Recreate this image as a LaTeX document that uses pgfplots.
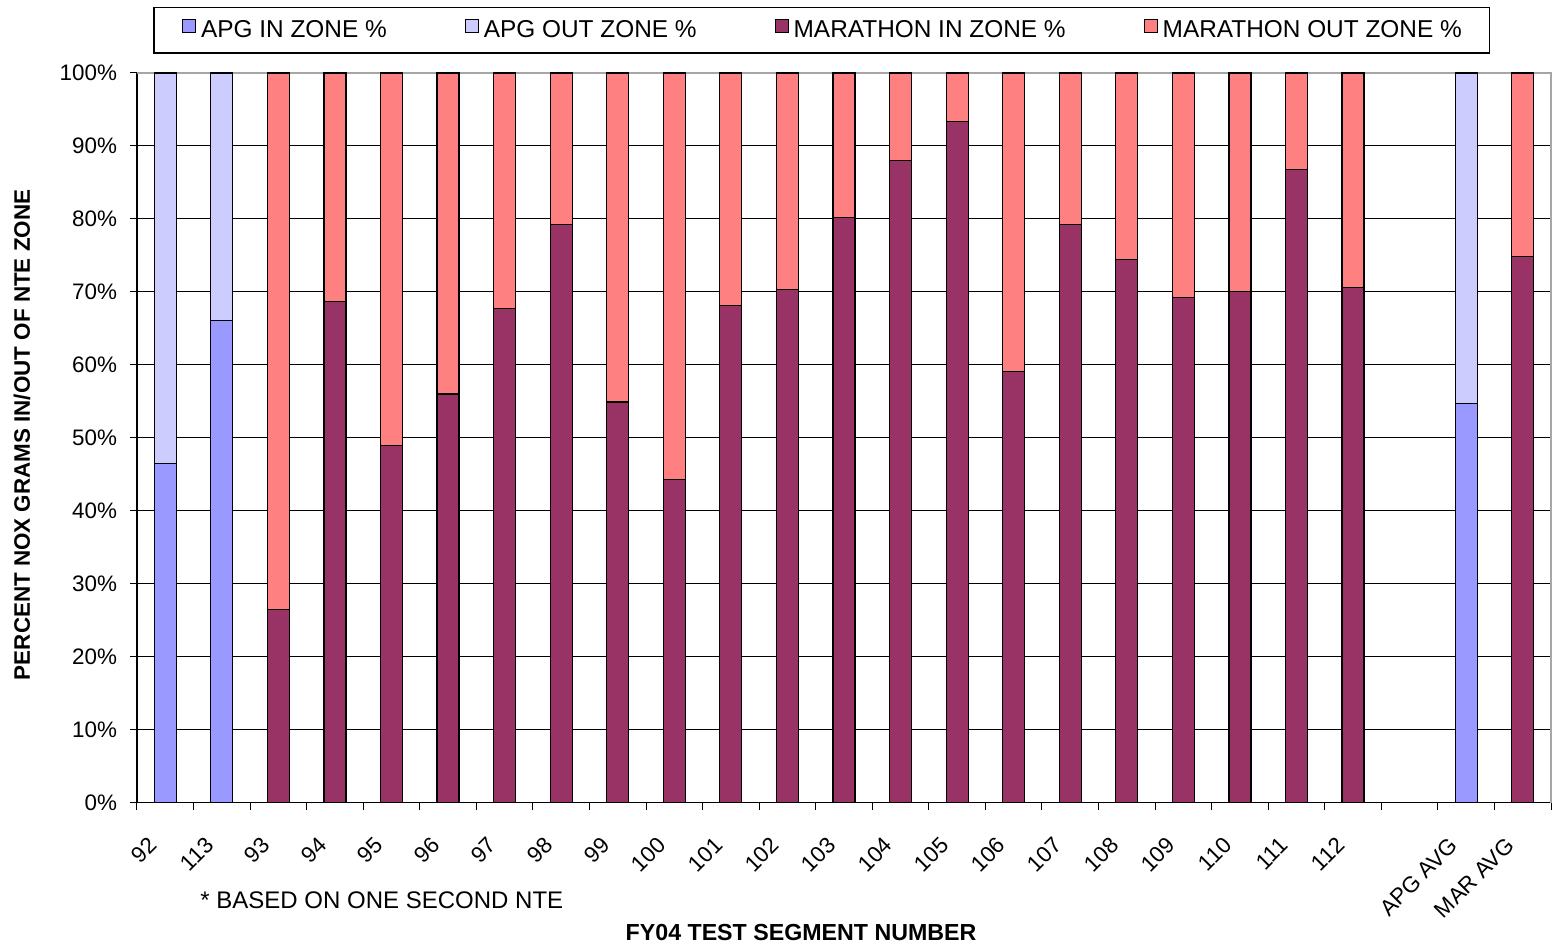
\documentclass[border=0pt]{standalone}
\usepackage{pgfplots}
\usepackage{pgfplotstable}
\usepackage{fontspec}
\pgfplotsset{compat=1.18}
\setmainfont{Liberation Sans}

\definecolor{apgin}{HTML}{9999FF}
\definecolor{apgout}{HTML}{CCCCFF}
\definecolor{marin}{HTML}{993366}
\definecolor{marout}{HTML}{FF8080}

% NOx grams in/out of the NTE zone, percent, per FY04 test segment
% (slot 22 is left empty between the segments and the averages)
\pgfplotstableread{
idx apgin apgout marin marout
0   46.5  53.5   0    0
1   66.1  33.9   0    0
2   0     0      26.5 73.5
3   0     0      68.7 31.3
4   0     0      48.9 51.1
5   0     0      56.0 44.0
6   0     0      67.7 32.3
7   0     0      79.2 20.8
8   0     0      54.9 45.1
9   0     0      44.3 55.7
10  0     0      68.1 31.9
11  0     0      70.3 29.7
12  0     0      80.2 19.8
13  0     0      88.0 12.0
14  0     0      93.4 6.6
15  0     0      59.1 40.9
16  0     0      79.2 20.8
17  0     0      74.4 25.6
18  0     0      69.2 30.8
19  0     0      70.1 29.9
20  0     0      86.8 13.2
21  0     0      70.6 29.4
22  0     0      0    0
23  54.7  45.3   0    0
24  0     0      74.9 25.1
}\segdata

\begin{document}
\begin{tikzpicture}
\begin{axis}[
  scale only axis,
  width=707pt, height=364.75pt,
  clip=false,
  ybar stacked, bar width=11pt,
  xmin=-0.5, xmax=24.5,
  ymin=0, ymax=100,
  enlargelimits=false,
  axis x line*=bottom, axis y line*=left,
  axis line style={black, line width=0.6pt},
  tick align=outside,
  ytick={0,10,...,100},
  yticklabels={0\%,10\%,20\%,30\%,40\%,50\%,60\%,70\%,80\%,90\%,100\%},
  ymajorgrids, grid style={black, line width=0.5pt},
  major tick length=3.5pt,
  xtick={0,...,24},
  xticklabels={92,113,93,94,95,96,97,98,99,100,101,102,103,104,105,106,107,108,109,110,111,112,{},APG AVG,MAR AVG},
  major x tick style={draw=none},
  minor xtick={-0.5,0.5,...,24.5},
  minor tick length=3.5pt,
  minor x tick style={black, line width=0.5pt},
  ytick style={black, line width=0.5pt},
  tick label style={font=\fontsize{11.2}{13}\selectfont},
  xticklabel style={xshift=-9pt, yshift=-13pt, rotate=45, anchor=north east, inner sep=0pt},
  yticklabel style={anchor=east, xshift=-3pt},
  legend columns=4,
  legend style={
    at={(0.4844,1)}, anchor=north, yshift=33pt,
    draw=black, line width=0.6pt,
    font=\fontsize{12.2}{14}\selectfont,
    inner xsep=14pt, inner ysep=5.5pt,
    nodes={inner sep=0pt, text height=8.5pt, text depth=2.5pt, anchor=west},
    /tikz/every odd column/.append style={column sep=2.5pt},
    /tikz/every even column/.append style={column sep=39pt},
  },
  legend image code/.code={\draw[#1, line width=0.5pt] (0pt,-0.5pt) rectangle (6.5pt,6pt);},
  every axis plot/.append style={draw=black, line width=0.6pt},
]
\addplot[fill=apgin] table[x=idx, y=apgin] {\segdata};
\addlegendentry{APG IN ZONE \%}
\addplot[fill=apgout] table[x=idx, y=apgout] {\segdata};
\addlegendentry{APG OUT ZONE \%}
\addplot[fill=marin] table[x=idx, y=marin] {\segdata};
\addlegendentry{MARATHON IN ZONE \%}
\addplot[fill=marout] table[x=idx, y=marout] {\segdata};
\addlegendentry{MARATHON OUT ZONE \%}

% light frame on the top and right of the plot area
\draw[gray!70, line width=0.6pt] (rel axis cs:0,1) -- (rel axis cs:1,1) -- (rel axis cs:1,0);

\node[rotate=90, font=\bfseries\fontsize{11.2}{13}\selectfont]
  at ([xshift=-57.5pt]rel axis cs:0,0.504) {PERCENT NOX GRAMS IN/OUT OF NTE ZONE};
\node[anchor=west, inner sep=0pt, font=\fontsize{12}{14}\selectfont]
  at ([yshift=-48.75pt]rel axis cs:0.0446,0) {* BASED ON ONE SECOND NTE};
\node[font=\bfseries\fontsize{11.6}{13}\selectfont]
  at ([yshift=-65.25pt]rel axis cs:0.4696,0) {FY04 TEST SEGMENT NUMBER};

\coordinate (bl) at (rel axis cs:0,0);
\coordinate (tr) at (rel axis cs:1,1);
\end{axis}
\pgfresetboundingbox
\path[use as bounding box] ([shift={(-68.5pt,-72.75pt)}]bl) rectangle ([shift={(0.5pt,36.5pt)}]tr);
\end{tikzpicture}
\end{document}
